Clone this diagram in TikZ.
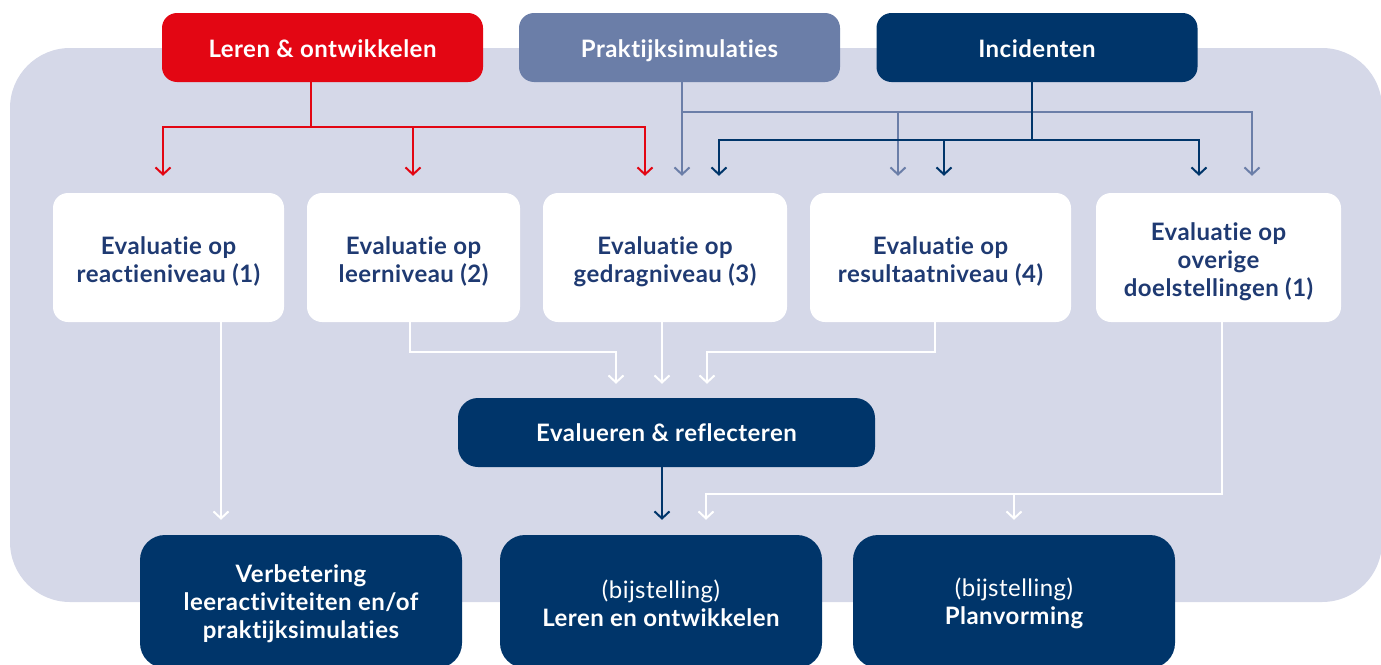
\documentclass[tikz,border=0pt]{standalone}
\usepackage{fontspec}
\setmainfont{Lato}[LetterSpace=2,Ligatures=NoCommon]
\usetikzlibrary{arrows.meta}
\definecolor{bgl}{HTML}{D5D8E8}
\definecolor{lred}{HTML}{E30613}
\definecolor{lgb}{HTML}{6B7EA8}
\definecolor{lnavy}{HTML}{00356A}
\definecolor{tnavy}{HTML}{1F3A72}
\newcommand\raiseA{\rule[-6pt]{0pt}{32.5pt}}
\newcommand\raiseB{\rule{0pt}{26pt}}
\newcommand\raiseC{\rule{0pt}{23pt}}
\begin{document}
\begin{tikzpicture}[x=1pt,y=-1pt,
  box/.style={rectangle, rounded corners=15pt, inner sep=0pt, align=center,
    font=\fontsize{24}{28}\selectfont\bfseries},
  topbox/.style={box, minimum width=321pt, minimum height=69pt, text=white},
  evbox/.style={box, fill=white, text=tnavy, minimum height=129pt},
  botbox/.style={box, fill=lnavy, text=white, rounded corners=25pt,
    minimum width=322pt, minimum height=133pt},
  con/.style={line width=2pt, -{Straight Barb[length=7pt,width=15pt]}}
]
\useasboundingbox (0,0) rectangle (1381,664);
\clip (0,0) rectangle (1381,664);
\fill[bgl, rounded corners=60pt] (10,48) rectangle (1382,602);

% top boxes
\node[topbox, fill=lred] (lo) at (322.5,47.5) {\raiseA Leren \& ontwikkelen};
\node[topbox, fill=lgb] (ps) at (679.5,47.5) {\raiseA Praktijksimulaties};
\node[topbox, fill=lnavy] (inc) at (1037,47.5) {\raiseA Incidenten};

% evaluation boxes
\node[evbox, minimum width=231pt] (e1) at (168.5,257.5) {\raiseB Evaluatie op\\reactieniveau (1)};
\node[evbox, minimum width=213pt] (e2) at (413.5,257.5) {\raiseB Evaluatie op\\leerniveau (2)};
\node[evbox, minimum width=244pt] (e3) at (665,257.5) {\raiseB Evaluatie op\\gedragniveau (3)};
\node[evbox, minimum width=261pt] (e4) at (940.5,257.5) {\raiseB Evaluatie op\\resultaatniveau (4)};
\node[evbox, minimum width=245pt] (e5) at (1218.5,257.5) {\raiseB Evaluatie op\\overige\\doelstellingen (1)};

% evaluate box
\node[box, fill=lnavy, text=white, rounded corners=20pt, minimum width=417pt, minimum height=69pt] (er) at (666.5,432.5) {Evalueren \& reflecteren};

% bottom boxes
\node[botbox] (va) at (301,601.5) {\raiseC Verbetering\\leeractiviteiten en/of\\praktijksimulaties};
\node[botbox] (ll) at (661,601.5) {\raiseC{\mdseries (bijstelling)}\\Leren en ontwikkelen};
\node[botbox] (pv) at (1014,601.5) {\raiseC{\mdseries (bijstelling)}\\Planvorming};

% red connectors
\draw[con, lred] ([xshift=-11.5pt]lo.south) |- ([xshift=-5.5pt,yshift=66pt]e1.north) -- ([xshift=-5.5pt,yshift=17pt]e1.north);
\draw[con, lred] ([xshift=-11.5pt]lo.south) |- ([xshift=-0.5pt,yshift=66pt]e2.north) -- ([xshift=-0.5pt,yshift=17pt]e2.north);
\draw[con, lred] ([xshift=-11.5pt]lo.south) |- ([xshift=-20pt,yshift=66pt]e3.north) -- ([xshift=-20pt,yshift=17pt]e3.north);

% grey-blue connectors
\draw[con, lgb] ([xshift=2.5pt]ps.south) -- ([xshift=17pt,yshift=17pt]e3.north);
\draw[con, lgb] ([xshift=2.5pt]ps.south) |- ([xshift=-42.5pt,yshift=81pt]e4.north) -- ([xshift=-42.5pt,yshift=17pt]e4.north);
\draw[con, lgb] ([xshift=2.5pt]ps.south) |- ([xshift=33.5pt,yshift=81pt]e5.north) -- ([xshift=33.5pt,yshift=17pt]e5.north);

% navy connectors
\draw[con, lnavy] ([xshift=-5pt]inc.south) |- ([xshift=54pt,yshift=53pt]e3.north) -- ([xshift=54pt,yshift=17pt]e3.north);
\draw[con, lnavy] ([xshift=-5pt]inc.south) |- ([xshift=3.5pt,yshift=53pt]e4.north) -- ([xshift=3.5pt,yshift=17pt]e4.north);
\draw[con, lnavy] ([xshift=-5pt]inc.south) |- ([xshift=-19.5pt,yshift=53pt]e5.north) -- ([xshift=-19.5pt,yshift=17pt]e5.north);

% white connectors
\draw[con, white] ([xshift=52.5pt]e1.south) -- ([xshift=-80pt,yshift=15pt]va.north);
\draw[con, white] ([xshift=-3.5pt]e2.south) |- ([xshift=-50.5pt,yshift=46pt]er.north) -- ([xshift=-50.5pt,yshift=14pt]er.north);
\draw[con, white] ([xshift=-3pt]e3.south) -- ([xshift=-4.5pt,yshift=14pt]er.north);
\draw[con, white] ([xshift=-5.5pt]e4.south) |- ([xshift=40.5pt,yshift=46pt]er.north) -- ([xshift=40.5pt,yshift=14pt]er.north);
\draw[con, lnavy] ([xshift=-4.5pt]er.south) -- ([xshift=1pt,yshift=15pt]ll.north);
\draw[con, white] ([xshift=3.5pt]e5.south) |- ([xshift=45pt,yshift=41pt]ll.north) -- ([xshift=45pt,yshift=15pt]ll.north);
\draw[con, white] ([xshift=3.5pt]e5.south) |- ([yshift=41pt]pv.north) -- ([yshift=15pt]pv.north);
\end{tikzpicture}
\end{document}
